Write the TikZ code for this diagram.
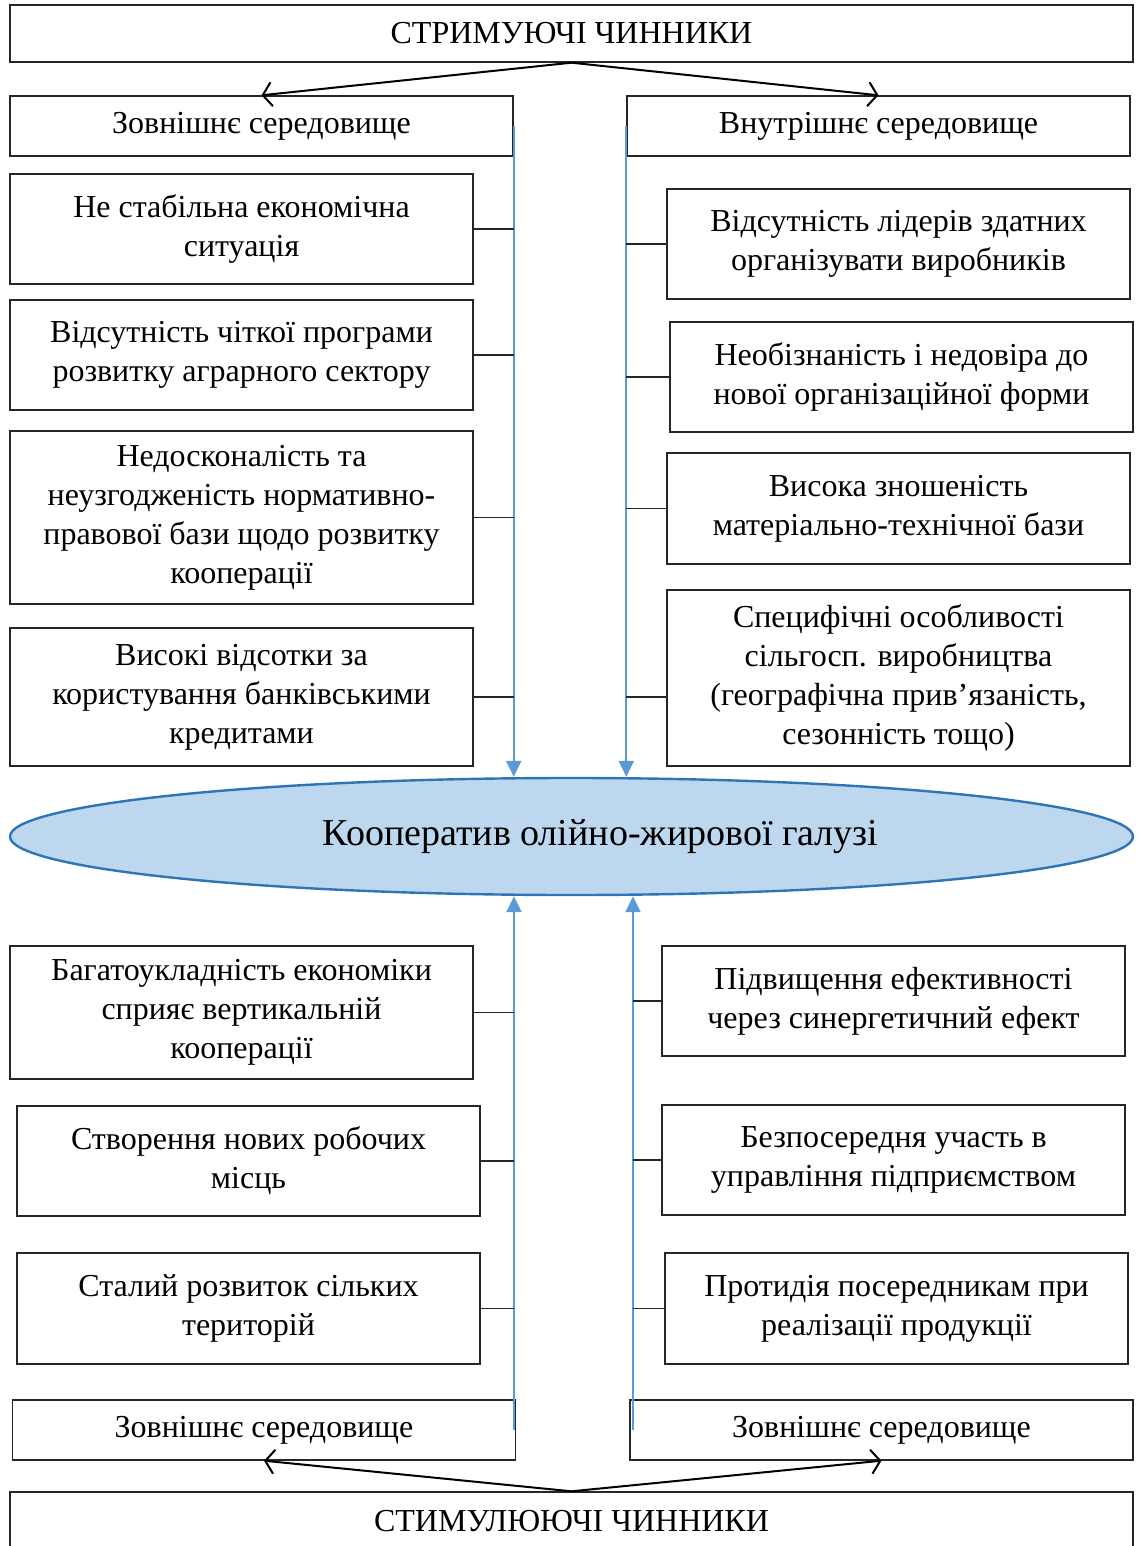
\documentclass[tikz,border=0pt]{standalone}
\usepackage{fontspec}
\setmainfont{Liberation Serif}
\usetikzlibrary{shapes.geometric,arrows.meta}
\definecolor{flowblue}{HTML}{5B9BD5}
\definecolor{coopfill}{HTML}{BDD7EE}
\definecolor{coopline}{HTML}{2E75B6}
\tikzset{
  factor/.style={draw=black!85, line width=0.7pt, align=center, inner sep=0pt,
    font=\fontsize{16}{19.5}\selectfont, minimum width=231.5pt},
  header/.style={factor, minimum width=251.5pt, minimum height=30pt},
  banner/.style={factor, minimum width=561.5pt},
  link/.style={draw=black!85, line width=0.6pt},
  flow/.style={flowblue, line width=1.1pt, -{Triangle[length=8pt,width=7.5pt]}},
  split/.style={black, line width=1pt, -{Straight Barb[length=4.5pt,width=12pt]}}
}
\begin{document}
\begin{tikzpicture}[x=0.5pt,y=-0.5pt]
    \useasboundingbox (0,0) rectangle (1139,1546);
    % upper half
    \node[banner, minimum height=28.5pt] (top) at (571.5,33.5) {СТРИМУЮЧІ ЧИННИКИ};
    \node[header] (envL) at (261.5,126) {Зовнішнє середовище};
    \node[header] (envR) at (878.5,126) {Внутрішнє середовище};
    \draw[split] (top.south) -- (envL.north);
    \draw[split] (top.south) -- (envR.north);

    \node[factor, minimum height=55pt] (l1) at (241.5,229) {Не стабільна економічна\\ситуація};
    \node[factor, minimum height=55pt] (l2) at (241.5,355) {Відсутність чіткої програми\\розвитку аграрного сектору};
    \node[factor, minimum height=86.5pt] (l3) at (241.5,517.5) {Недосконалість та\\неузгодженість нормативно-\\правової бази щодо розвитку\\кооперації};
    \node[factor, minimum height=69pt] (l4) at (241.5,697) {Високі відсотки за\\користування банківськими\\кредитами};

    \node[factor, minimum height=55pt] (r1) at (898.5,244) {Відсутність лідерів здатних\\організувати виробників};
    \node[factor, minimum height=55pt] (r2) at (901.5,377) {Необізнаність і недовіра до\\нової організаційної форми};
    \node[factor, minimum height=55.5pt] (r3) at (898.5,508.5) {Висока зношеність\\матеріально-технічної бази};
    \node[factor, minimum height=88pt] (r4) at (898.5,678) {Специфічні особливості\\сільгосп. виробництва\\(географічна прив’язаність,\\сезонність тощо)};

    % cooperative
    \node[ellipse, draw=coopline, line width=1.2pt, fill=coopfill, minimum width=561.5pt,
        minimum height=58.5pt, font=\fontsize{19}{23}\selectfont] (coop) at (571.5,836.5)
        {\hspace*{29pt}Кооператив олійно-жирової галузі};

    \draw[flow] (envL.east) -- (envL.east |- coop.north);
    \draw[flow] (envR.west) -- (envR.west |- coop.north);
    \foreach \f in {l1,l2,l3,l4}
        \draw[link] (\f.east) -- (\f.east -| envL.east);
    \foreach \f in {r1,r2,r3}
        \draw[link] (\f.west) -- (\f.west -| envR.west);
    \draw[link] (r4.west |- l4.east) -- (envR.west |- l4.east);

    % lower half
    \node[factor, minimum height=66.5pt] (l5) at (241.5,1012.5) {Багатоукладність економіки\\сприяє вертикальній\\кооперації};
    \node[factor, minimum height=55pt] (l6) at (248.5,1161) {Створення нових робочих\\місць};
    \node[factor, minimum height=55.5pt] (l7) at (248.5,1308.5) {Сталий розвиток сільких\\територій};

    \node[factor, minimum height=55pt] (r5) at (893.5,1001) {Підвищення ефективності\\через синергетичний ефект};
    \node[factor, minimum height=55pt] (r6) at (893.5,1160) {Безпосередня участь в\\управління підприємством};
    \node[factor, minimum height=55.5pt] (r7) at (896.5,1308.5) {Протидія посередникам при\\реалізації продукції};

    \node[header] (extL) at (264,1430) {Зовнішнє середовище};
    \node[header] (extR) at (881.5,1430) {Зовнішнє середовище};
    \node[banner, minimum height=29pt] (bottom) at (571.5,1521) {СТИМУЛЮЮЧІ ЧИННИКИ};
    \draw[split] (bottom.north) -- (extL.south);
    \draw[split] (bottom.north) -- (extR.south);

    \coordinate (upL) at (514,1430);
    \coordinate (upR) at (633,1430);
    \draw[flow] (upL) -- (upL |- coop.south);
    \draw[flow] (upR) -- (upR |- coop.south);
    \foreach \f in {l5,l6,l7}
        \draw[link] (\f.east) -- (\f.east -| upL);
    \foreach \f in {r5,r6,r7}
        \draw[link] (\f.west) -- (\f.west -| upR);
\end{tikzpicture}
\end{document}
